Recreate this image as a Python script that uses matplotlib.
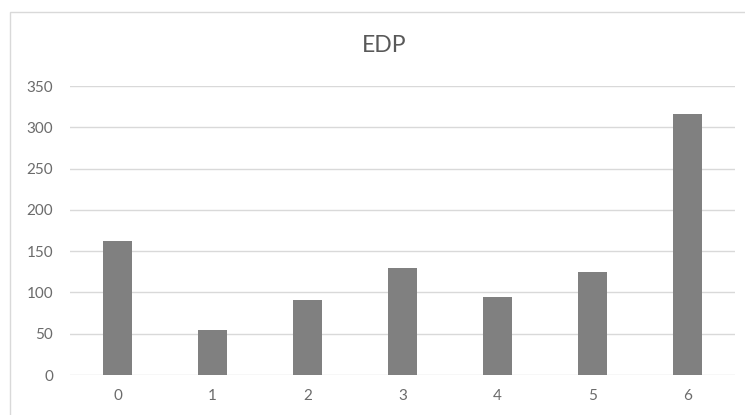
import matplotlib
matplotlib.use('Agg')
from matplotlib import pyplot as plt
from matplotlib.patches import Rectangle

plt.rcParams['font.family'] = ['Lato', 'DejaVu Sans']

# data
categories = ['0', '1', '2', '3', '4', '5', '6']
edp = [162, 54, 91, 129, 95, 125, 316]
y_ticks = [0, 50, 100, 150, 200, 250, 300, 350]

fig = plt.figure(figsize=(7.45, 4.15), dpi=100)
ax = fig.add_axes([70 / 745, 1 - 375 / 415, 665 / 745, 289 / 415])

# chart area border (excel style)
fig.patches.append(Rectangle((10 / 745, -0.05), 1.0, 1 - 12 / 415 + 0.05,
                             transform=fig.transFigure, fill=False,
                             edgecolor='#d9d9d9', linewidth=1))

x = range(len(categories))
ax.bar(x, edp, width=0.31, color='#808080', zorder=3)

ax.set_xlim(-0.5, 6.5)
ax.set_ylim(0, 350)
ax.set_yticks(y_ticks)
ax.set_xticks(list(x))
ax.set_xticklabels(categories)
ax.yaxis.grid(True, color='#d9d9d9', linewidth=1, zorder=0)
for s in ax.spines.values():
    s.set_visible(False)
ax.tick_params(length=0, colors='#6b6b6b', labelsize=11)
ax.tick_params(axis='x', pad=10)
ax.tick_params(axis='y', pad=12)

fig.text(384 / 745, 1 - 46 / 415, 'EDP', ha='center', va='center',
         fontsize=16.5, color='#595959')

fig.savefig('out.png', dpi=100)
